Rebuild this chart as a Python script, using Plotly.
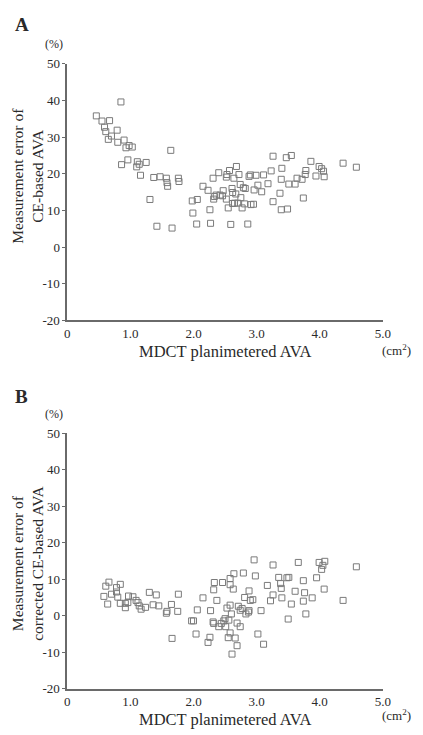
import plotly.graph_objects as go

# Panel A: measurement error of CE-based AVA (%) vs MDCT planimetered AVA (cm2)
a_x = [0.46, 0.85, 0.55, 0.67, 0.59, 0.61, 0.65, 0.70, 0.79, 0.80, 0.90, 0.93, 0.98, 1.03,
       0.96, 0.86, 1.11, 1.14, 1.10, 1.25, 1.16, 1.64, 1.31, 1.37, 1.47, 1.42, 1.57, 1.58,
       1.59, 1.76, 1.77, 1.66, 1.98, 2.06, 1.99, 2.05, 2.15, 2.23, 2.26, 2.27, 2.31, 2.32,
       2.33, 2.40, 2.36, 2.42, 2.47, 2.46, 2.52, 2.53, 2.57, 2.52, 2.55, 2.59, 2.61, 2.62,
       2.64, 2.68, 2.72, 2.62, 2.65, 2.67, 2.70, 2.74, 2.75, 2.77, 2.79, 2.82, 2.81, 2.86,
       2.88, 2.90, 2.91, 2.95, 2.96, 2.99, 3.02, 3.08, 3.11, 3.18, 3.23, 3.26, 3.26, 3.37,
       3.40, 3.39, 3.39, 3.49, 3.47, 3.55, 3.51, 3.61, 3.64, 3.72, 3.74, 3.77, 3.78, 3.86,
       3.94, 3.99, 4.03, 4.06, 4.07, 4.37, 4.58]
a_y = [35.8, 39.6, 34.4, 34.5, 32.7, 31.5, 29.4, 30.3, 31.9, 28.6, 29.2, 27.1, 27.7, 27.3,
       23.8, 22.5, 23.3, 22.6, 21.9, 23.1, 19.6, 26.4, 13.0, 19.0, 19.2, 5.7, 18.8, 17.6,
       16.6, 18.8, 17.9, 5.2, 12.6, 13.0, 9.3, 6.3, 16.6, 15.5, 10.2, 6.5, 18.8, 13.1,
       13.8, 20.3, 14.2, 14.2, 15.4, 14.0, 19.1, 19.8, 20.9, 13.1, 10.7, 6.2, 16.0, 14.9,
       18.8, 22.0, 19.8, 11.9, 12.0, 14.5, 12.0, 17.1, 13.5, 10.7, 16.2, 16.0, 11.8, 6.3,
       19.3, 19.7, 11.6, 11.7, 15.6, 19.6, 16.9, 15.1, 19.7, 17.3, 20.8, 24.8, 12.4, 14.7,
       21.5, 18.5, 10.2, 10.4, 24.4, 25.0, 17.2, 17.2, 18.8, 18.5, 13.4, 19.8, 20.9, 23.4,
       19.4, 22.0, 21.4, 20.7, 19.2, 22.9, 21.8]

# Panel B: measurement error of corrected CE-based AVA (%)
b_x = [0.58, 0.61, 0.66, 0.64, 0.70, 0.78, 0.78, 0.80, 0.84, 0.84, 0.92, 0.92, 0.97, 0.96,
       1.04, 1.09, 1.12, 1.14, 1.17, 1.24, 1.30, 1.36, 1.41, 1.45, 1.57, 1.58, 1.65, 1.66,
       1.75, 1.76, 1.97, 2.00, 2.04, 2.06, 2.15, 2.23, 2.26, 2.27, 2.31, 2.32, 2.32, 2.33,
       2.37, 2.40, 2.44, 2.46, 2.48, 2.50, 2.51, 2.53, 2.55, 2.56, 2.58, 2.58, 2.58, 2.58,
       2.60, 2.61, 2.63, 2.64, 2.66, 2.69, 2.69, 2.71, 2.74, 2.74, 2.77, 2.79, 2.81, 2.83,
       2.87, 2.88, 2.88, 2.90, 2.94, 2.96, 2.98, 3.02, 3.07, 3.11, 3.17, 3.22, 3.26, 3.26,
       3.35, 3.38, 3.39, 3.40, 3.48, 3.50, 3.51, 3.55, 3.61, 3.66, 3.74, 3.74, 3.76, 3.78,
       3.88, 3.95, 3.99, 4.03, 4.05, 4.08, 4.07, 4.37, 4.58]
b_y = [5.3, 8.1, 9.2, 3.2, 5.9, 7.7, 6.5, 5.1, 8.6, 3.4, 3.4, 2.2, 5.4, 3.6,
       5.2, 4.2, 3.6, 2.7, 1.8, 2.3, 6.4, 3.0, 5.7, 2.7, 0.7, 1.2, 3.1, -6.2,
       1.2, 5.9, -1.4, -1.4, -5.0, 1.6, 4.9, -7.3, -5.9, 1.4, -1.7, -2.1, 7.1, 9.1,
       4.2, -3.0, -2.1, 9.1, -1.4, -0.8, -3.0, 2.1, -6.0, -1.2, 8.5, 10.2, 2.9, -4.7,
       0.5, -10.5, 7.3, 11.5, -6.1, -8.2, -2.0, 2.6, -3.0, 1.5, 2.0, 11.7, 5.0, 0.5,
       1.0, 1.4, 6.8, 4.2, 4.4, 15.3, 10.9, -5.0, 1.4, -7.8, 8.3, 4.1, 5.7, 13.9,
       10.5, 8.8, 7.5, 4.9, 10.4, -0.9, 10.5, 3.2, 6.7, 14.6, 9.6, 4.0, 6.3, 0.5,
       4.9, 10.4, 14.6, 12.7, 13.8, 14.9, 7.3, 4.2, 13.4]

x_ticks = [0, 1, 2, 3, 4, 5]
x_tick_labels = ["0", "1.0", "2.0", "3.0", "4.0", "5.0"]
y_ticks = [-20, -10, 0, 10, 20, 30, 40, 50]
y_tick_labels = ["-20", "-10", "0", "10", "20", "30", "40", "50"]

W, H = 423, 735
SERIF = "Liberation Serif, Times New Roman, serif"
AXIS_COLOR = "#6a6a6a"
TEXT_COLOR = "#2a2a2a"


def px_x(p):
    return p / W


def px_y(p):
    return 1 - p / H


marker = dict(symbol="square-open", size=6, color="#7a7a7a", line=dict(width=1, color="#7a7a7a"))

fig = go.Figure()
fig.add_trace(go.Scatter(x=a_x, y=a_y, mode="markers", marker=marker, xaxis="x", yaxis="y",
                         showlegend=False, cliponaxis=False))
fig.add_trace(go.Scatter(x=b_x, y=b_y, mode="markers", marker=marker, xaxis="x2", yaxis="y2",
                         showlegend=False, cliponaxis=False))

xdom = [px_x(66), px_x(390)]

xax = dict(range=[0, 5], domain=xdom, showline=True, linecolor=AXIS_COLOR, linewidth=1.6,
           showgrid=False, zeroline=False, ticks="", tickvals=x_ticks, ticktext=x_tick_labels,
           tickfont=dict(family=SERIF, size=13, color=TEXT_COLOR), fixedrange=True)
yax = dict(range=[-20, 50], showline=True, linecolor=AXIS_COLOR, linewidth=1.6,
           showgrid=False, zeroline=False, ticks="outside", ticklen=3, tickwidth=1,
           tickcolor=AXIS_COLOR, tickvals=y_ticks, ticktext=y_tick_labels,
           tickfont=dict(family=SERIF, size=13, color=TEXT_COLOR), fixedrange=True)

fig.update_layout(
    width=W, height=H, margin=dict(l=0, r=0, t=0, b=0),
    paper_bgcolor="white", plot_bgcolor="white",
    xaxis=dict(xax, anchor="y"),
    yaxis=dict(yax, domain=[px_y(320), px_y(58)], anchor="x"),
    xaxis2=dict(xax, anchor="y2"),
    yaxis2=dict(yax, domain=[px_y(696), px_y(435)], anchor="x2"),
)

ann = []


def add_text(text, x, y, size, bold=False, angle=0, xanchor="center", yanchor="middle"):
    ann.append(dict(text=("<b>%s</b>" % text) if bold else text, x=px_x(x), y=px_y(y),
                    xref="paper", yref="paper", showarrow=False, textangle=angle,
                    xanchor=xanchor, yanchor=yanchor,
                    font=dict(family=SERIF, size=size, color=TEXT_COLOR)))


# Panel labels
add_text("A", 10, 18, 19, bold=True, xanchor="left")
add_text("B", 10, 398, 19, bold=True, xanchor="left")
# Units
add_text("(%)", 52, 38, 12)
add_text("(%)", 52, 415, 12)
add_text("(cm<sup>2</sup>)", 421, 350, 13, xanchor="right")
add_text("(cm<sup>2</sup>)", 421, 723, 13, xanchor="right")
# X titles
add_text("MDCT planimetered AVA", 228, 352, 16.5)
add_text("MDCT planimetered AVA", 228, 727, 16.5)
# Y titles
add_text("Measurement error of<br>CE-based AVA", 25, 172, 15.5, angle=-90)
add_text("Measurement error of<br>corrected CE-based AVA", 25, 568, 15.5, angle=-90)

fig.update_layout(annotations=ann)
fig.write_html("out.html")
